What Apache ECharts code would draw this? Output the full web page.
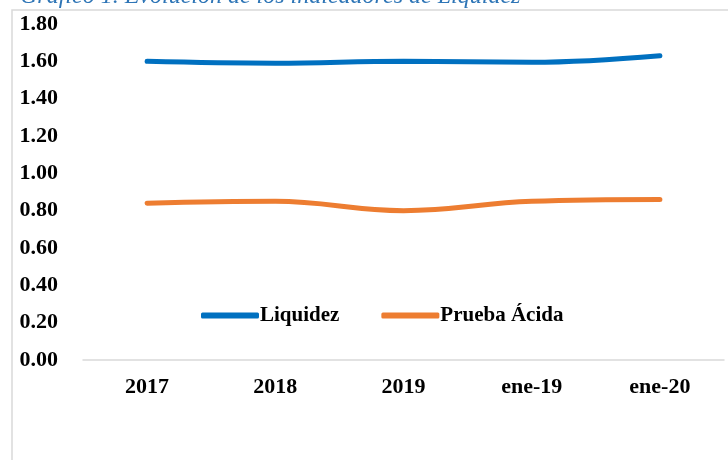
<!DOCTYPE html>
<html>
<head>
<meta charset="utf-8">
<script src="https://cdn.jsdelivr.net/npm/echarts@6/dist/echarts.min.js"></script>
<style>
  html, body { margin: 0; padding: 0; background: #fff; }
  #chart { width: 728px; height: 460px; }
</style>
</head>
<body>
<div id="chart"></div>
<script>
// Data
const categories = ["2017", "2018", "2019", "ene-19", "ene-20"];
const liquidez = [1.60, 1.59, 1.60, 1.595, 1.63];
const pruebaAcida = [0.84, 0.85, 0.80, 0.85, 0.86];
const seriesNames = ["Liquidez", "Prueba Ácida"];

const font = "'Liberation Serif', 'DejaVu Serif', serif";

const chart = echarts.init(document.getElementById("chart"));

const option = {
  animation: false,
  backgroundColor: "#fff",
  textStyle: { fontFamily: font },
  graphic: [
    {
      type: "rect",
      shape: { x: 12, y: 10, width: 730, height: 460 },
      style: { fill: "none", stroke: "#d9d9d9", lineWidth: 1.5 },
      silent: true
    },
    {
      type: "text",
      left: 20,
      top: -15,
      style: {
        text: "Gráfico 1. Evolución de los indicadores de Liquidez",
        fill: "#2E75B6",
        font: "italic 24px " + font
      }
    }
  ],
  legend: {
    data: seriesNames,
    left: 196,
    top: 300,
    itemWidth: 58,
    itemHeight: 6,
    itemGap: 42,
    icon: "roundRect",
    textStyle: { fontSize: 21, fontWeight: "bold", color: "#000", fontFamily: font, padding: [0, 0, 0, -4] }
  },
  grid: { left: 83, right: 4, top: 24, bottom: 100 },
  xAxis: {
    type: "category",
    data: categories,
    axisLine: { lineStyle: { color: "#d9d9d9", width: 1.5 } },
    axisTick: { show: false },
    axisLabel: { fontSize: 22, fontWeight: "bold", color: "#000", fontFamily: font, margin: 16 }
  },
  yAxis: {
    type: "value",
    min: 0,
    max: 1.8,
    interval: 0.2,
    axisLine: { show: false },
    axisTick: { show: false },
    splitLine: { show: false },
    axisLabel: {
      fontSize: 22,
      fontWeight: "bold",
      color: "#000",
      fontFamily: font,
      margin: 25,
      formatter: (v) => v.toFixed(2)
    }
  },
  series: [
    {
      name: seriesNames[0],
      type: "line",
      data: liquidez,
      smooth: 0.4,
      symbol: "none",
      lineStyle: { color: "#0070C0", width: 5, cap: "round" },
      itemStyle: { color: "#0070C0" }
    },
    {
      name: seriesNames[1],
      type: "line",
      data: pruebaAcida,
      smooth: 0.4,
      symbol: "none",
      lineStyle: { color: "#ED7D31", width: 5, cap: "round" },
      itemStyle: { color: "#ED7D31" }
    }
  ]
};

chart.setOption(option);
</script>
</body>
</html>
